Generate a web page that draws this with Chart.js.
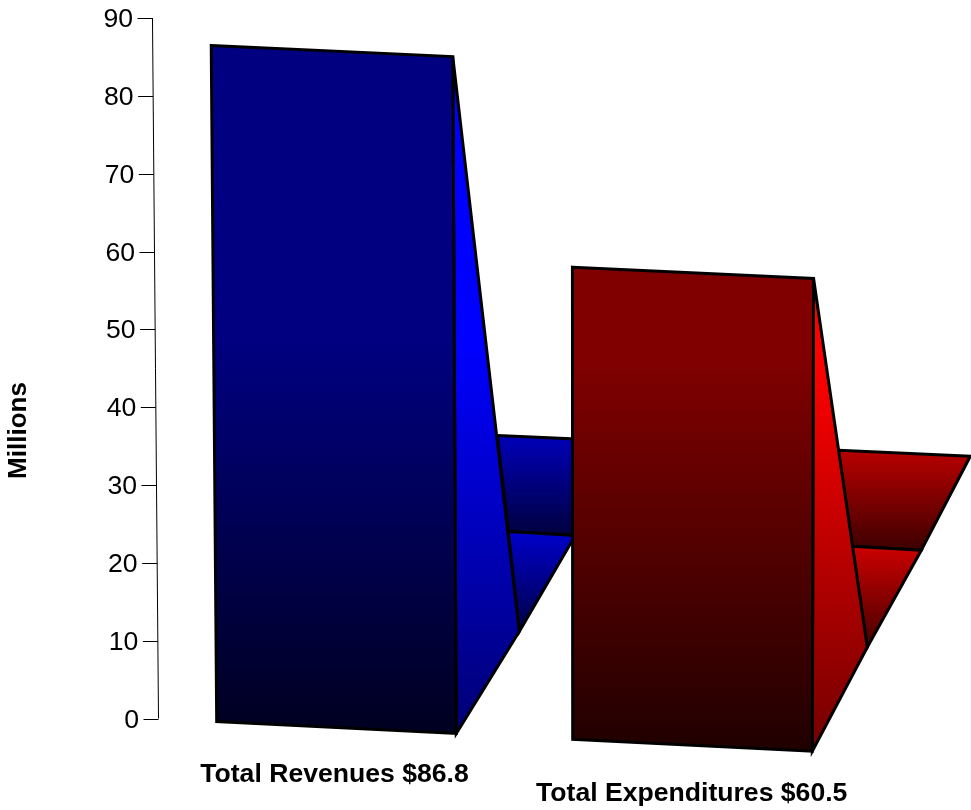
<!DOCTYPE html>
<html>
<head>
<meta charset="utf-8">
<style>html,body{margin:0;padding:0;background:#fff}canvas{display:block}</style>
<script src="https://cdn.jsdelivr.net/npm/chart.js@4/dist/chart.umd.js"></script>
</head>
<body>
<canvas id="c" width="971" height="810"></canvas>
<script>
const categories = ['Total Revenues $86.8', 'Total Expenditures $60.5'];
const values = [86.8, 60.5];
const baseColors = ['rgb(0,0,255)', 'rgb(255,0,0)'];
const axisTitle = 'Millions';

/* projection constants of the oblique view */
const AXIS_LEAN = 0.0086;
const barLean = [[0.0081, 0.0052], [0.0006, -0.0027]];
const DROP = 0.05, DROP_X0 = 147, DROP_PERSP = 6e-6;
/* back-wall offsets measured from the bar's front bottom-right corner, one row per bar */
const depth = [
  {a:[41,-298], b:[175,-292], c:[119,-198], d:[52,-202], e:[63,-102]},
  {a:[26,-301], b:[158,-295], c:[109,-201], d:[40,-205], e:[55,-104]}
];
const labelPlace = [[334.5,782], [691.7,801]];
const TEXT_FONT = '26.6px "Liberation Sans"';
const FADE_SPAN = 390;

function shade(rgb, f){
  const m = rgb.match(/\d+/g).map(Number);
  return `rgb(${m.map(v=>Math.round(v*f)).join(',')})`;
}
function ramp(ctx, pts, rgb, f0, f1, span){
  const ys = pts.map(p=>p[1]), top = Math.min(...ys), bot = Math.max(...ys);
  const g = ctx.createLinearGradient(0, top, 0, bot);
  g.addColorStop(span ? Math.max(0, 1 - span/(bot-top)) : 0, shade(rgb,f0));
  g.addColorStop(1, shade(rgb,f1));
  return g;
}
function poly(ctx, pts, fill){
  ctx.beginPath();
  pts.forEach((p,i)=> i ? ctx.lineTo(p[0],p[1]) : ctx.moveTo(p[0],p[1]));
  ctx.closePath();
  ctx.fillStyle = fill; ctx.fill();
  ctx.lineWidth = 3; ctx.lineJoin = 'miter'; ctx.strokeStyle = '#000'; ctx.stroke();
}

const view3d = {
  id:'view3d',
  project(chart, px, py, lean){
    const base = chart.scales.y.getPixelForValue(0);
    const h = base - py;
    return [px - h*lean,
            py + DROP*(px-DROP_X0) - h*DROP_PERSP*(px-DROP_X0)];
  },
  beforeDatasetDraw(chart, args){
    const ctx = chart.ctx, P = (x,y,l)=>this.project(chart,x,y,l);
    const yS = chart.scales.y, xS = chart.scales.x;
    const axisX = xS.left;

    /* value axis */
    ctx.save();
    ctx.strokeStyle = '#000'; ctx.lineWidth = 1;
    const a0 = P(axisX, yS.getPixelForValue(yS.min), AXIS_LEAN);
    const a1 = P(axisX, yS.getPixelForValue(yS.max), AXIS_LEAN);
    ctx.beginPath(); ctx.moveTo(a0[0],a0[1]); ctx.lineTo(a1[0],a1[1]); ctx.stroke();
    ctx.font = TEXT_FONT; ctx.textAlign='right'; ctx.textBaseline='alphabetic'; ctx.fillStyle='#000';
    yS.ticks.forEach(t=>{
      const p = P(axisX, yS.getPixelForValue(t.value), AXIS_LEAN);
      const y = Math.round(p[1])+0.5;
      ctx.beginPath(); ctx.moveTo(p[0]-15,y); ctx.lineTo(p[0],y); ctx.stroke();
      ctx.fillText(String(t.value), p[0]-19.5, y+8);
    });
    /* axis title */
    ctx.save();
    ctx.translate(25.5, 430.5); ctx.rotate(-Math.PI/2);
    ctx.font='bold 26px "Liberation Sans"'; ctx.textAlign='center'; ctx.fillText(axisTitle,0,0);
    ctx.restore();

    /* bars */
    const meta = chart.getDatasetMeta(args.index);
    meta.data.forEach((bar,i)=>{
      const c = baseColors[i], L = bar.x-bar.width/2, R = bar.x+bar.width/2;
      const TL=P(L,bar.y,barLean[i][0]), TR=P(R,bar.y,barLean[i][1]);
      const BR=P(R,bar.base,barLean[i][1]), BL=P(L,bar.base,barLean[i][0]);
      const off = o=>[BR[0]+o[0], BR[1]+o[1]], d=depth[i];
      const A=off(d.a), B=off(d.b), C=off(d.c), D=off(d.d), E=off(d.e);
      const wall=[A,B,C,D], tri=[D,C,E], side=[TR,BR,E], front=[TL,TR,BR,BL];
      poly(ctx, wall, ramp(ctx,wall,c,0.73,0.24));
      poly(ctx, tri, ramp(ctx,tri,c,0.8,0.27));
      poly(ctx, side, ramp(ctx,side,c,1,0.45,FADE_SPAN));
      poly(ctx, front, ramp(ctx,front,c,0.5,0.125,FADE_SPAN));
      ctx.font='bold 26.6px "Liberation Sans"'; ctx.textAlign='center'; ctx.textBaseline='alphabetic'; ctx.fillStyle='#000';
      ctx.fillText(categories[i], labelPlace[i][0], labelPlace[i][1]);
    });
    ctx.restore();
    return false;
  }
};

new Chart(document.getElementById('c'), {
  type:'bar',
  data:{labels:categories, datasets:[{label:axisTitle, data:values, backgroundColor:baseColors,
        barPercentage:0.673, categoryPercentage:1}]},
  options:{
    responsive:false, animation:false,
    layout:{padding:{left:158.5,right:100.5,top:17.5,bottom:92}},
    plugins:{legend:{display:false},tooltip:{enabled:false}},
    scales:{
      x:{display:false},
      y:{display:false,min:0,max:90,ticks:{stepSize:10}}
    }
  },
  plugins:[view3d]
});
</script>
</body>
</html>
